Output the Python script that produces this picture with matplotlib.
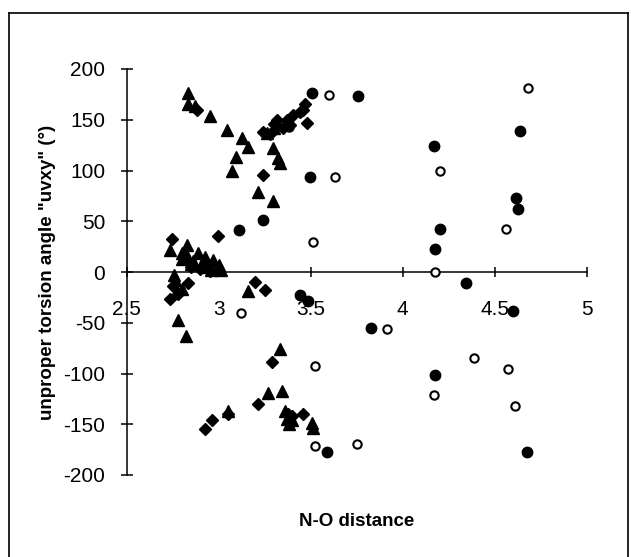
import numpy as np
import matplotlib
matplotlib.use('Agg')
import matplotlib.pyplot as plt
from matplotlib.lines import Line2D

plt.rcParams['font.family'] = ['Liberation Sans', 'DejaVu Sans']
plt.rcParams['axes.unicode_minus'] = False

# triangles
tri_x = [2.835, 2.835, 2.87, 2.953, 3.043, 3.125, 3.161, 3.094, 3.07, 3.215, 3.293,
         3.297, 3.324, 3.333, 3.26, 3.30,
         2.735, 2.826, 2.80, 2.83, 2.89, 2.925, 2.97, 2.86, 2.908, 2.94, 2.989, 3.01,
         2.96, 2.80, 2.85, 2.92, 3.0,
         2.759, 2.76, 2.80, 3.161, 2.78, 2.822,
         3.333, 3.27, 3.342, 3.052, 3.36, 3.37, 3.40, 3.38, 3.505, 3.51]
tri_y = [176, 166, 164, 154, 140, 132, 123, 113, 100, 79, 70,
         122, 112, 107, 137, 142,
         22, 27, 19, 16, 19, 15, 12, 11, 7, 5, 4, 2,
         2, 13, 8, 10, 7,
         -3, -8, -17, -19, -47, -63,
         -76, -119, -117.5, -137, -137, -145, -146, -150, -148.6, -154]

# diamonds
dia_x = [2.88, 3.242, 2.998, 2.748, 3.469, 3.478, 3.242, 3.28, 3.315, 3.35, 3.37,
         3.405, 3.44, 3.30, 3.39, 3.46,
         2.753, 2.835, 2.78, 2.735, 2.85, 2.90, 2.95,
         3.197, 3.252, 3.288, 3.215, 3.05, 2.962, 2.925, 3.378, 3.46, 3.40]
dia_y = [160, 96, 35, 33, 166, 147, 138, 136, 150, 142, 150,
         155, 158, 146, 145, 160,
         -14, -11, -22, -27, 5, 3, 1,
         -10, -18, -89, -130, -140, -146, -155, -140, -139.5, -142]

# filled circles
fc_x = [3.509, 3.759, 3.496, 3.243, 3.112, 4.17, 4.638, 4.616, 4.628, 4.2, 4.177,
        4.344, 4.598, 3.826, 4.178, 4.677, 3.442, 3.487, 3.587]
fc_y = [176, 173, 94, 51, 41, 124, 139, 73, 62, 42.6, 22.6,
        -11, -38, -55, -101, -177.6, -23, -29, -177.5]

# open circles
oc_x = [3.601, 3.632, 3.511, 3.384, 4.681, 4.2, 4.56, 4.177, 3.916, 4.389, 4.574,
        4.17, 4.612, 3.753, 3.119, 3.523, 3.523]
oc_y = [174.5, 93.5, 30, 143, 181, 99.7, 42.3, -0.4, -56, -85, -96,
        -121, -132, -169, -40, -93, -171]

xticks = [2.5, 3, 3.5, 4, 4.5, 5]
xlabels = ['2.5', '3', '3.5', '4', '4.5', '5']
yticks = [-200, -150, -100, -50, 0, 50, 100, 150, 200]

W, H = 631, 557
fig = plt.figure(figsize=(W / 100, H / 100), dpi=100)
ax = fig.add_axes([126.7 / W, 1 - 475 / H, 460 / W, 406 / H])

ax.plot(oc_x, oc_y, 'o', ms=6, mfc='white', mec='black', mew=1.5, clip_on=False, zorder=3)
ax.plot(fc_x, fc_y, 'o', ms=7.5, color='black', clip_on=False, zorder=3)
ax.plot(dia_x, dia_y, 'D', ms=6, color='black', clip_on=False, zorder=3)
ax.plot(tri_x, tri_y, '^', ms=8, color='black', clip_on=False, zorder=3)

ax.set_xlim(2.5, 5)
ax.set_ylim(-200, 200)
ax.spines['top'].set_visible(False)
ax.spines['right'].set_visible(False)
ax.spines['bottom'].set_position(('data', 0))
ax.spines['left'].set_linewidth(1.1)
ax.spines['bottom'].set_linewidth(1.1)

ax.set_xticks(xticks)
ax.set_xticklabels(xlabels)
ax.set_yticks(yticks)
ax.tick_params(axis='y', direction='inout', length=9, width=1.1, labelsize=15, pad=11)
ax.tick_params(axis='x', direction='inout', length=7, width=1.1, labelsize=15, pad=17)

fig.text(356.7 / W, 1 - 522 / H, 'N-O distance', ha='center', va='center',
         fontsize=13.5, fontweight='bold')
fig.text(47.5 / W, 1 - 272 / H, 'unproper torsion angle "uvxy" (°)', ha='center', va='center',
         rotation=90, fontsize=13.5, fontweight='bold')

# outer frame
bx0, bx1, by = 9 / W, 628 / W, 1 - 13 / H
fig.add_artist(Line2D([bx0, bx0], [0, by], color='black', lw=1.2, transform=fig.transFigure))
fig.add_artist(Line2D([bx0, bx1], [by, by], color='black', lw=1.2, transform=fig.transFigure))
fig.add_artist(Line2D([bx1, bx1], [0, by], color='black', lw=1.2, transform=fig.transFigure))

plt.savefig('out.png', dpi=100)
